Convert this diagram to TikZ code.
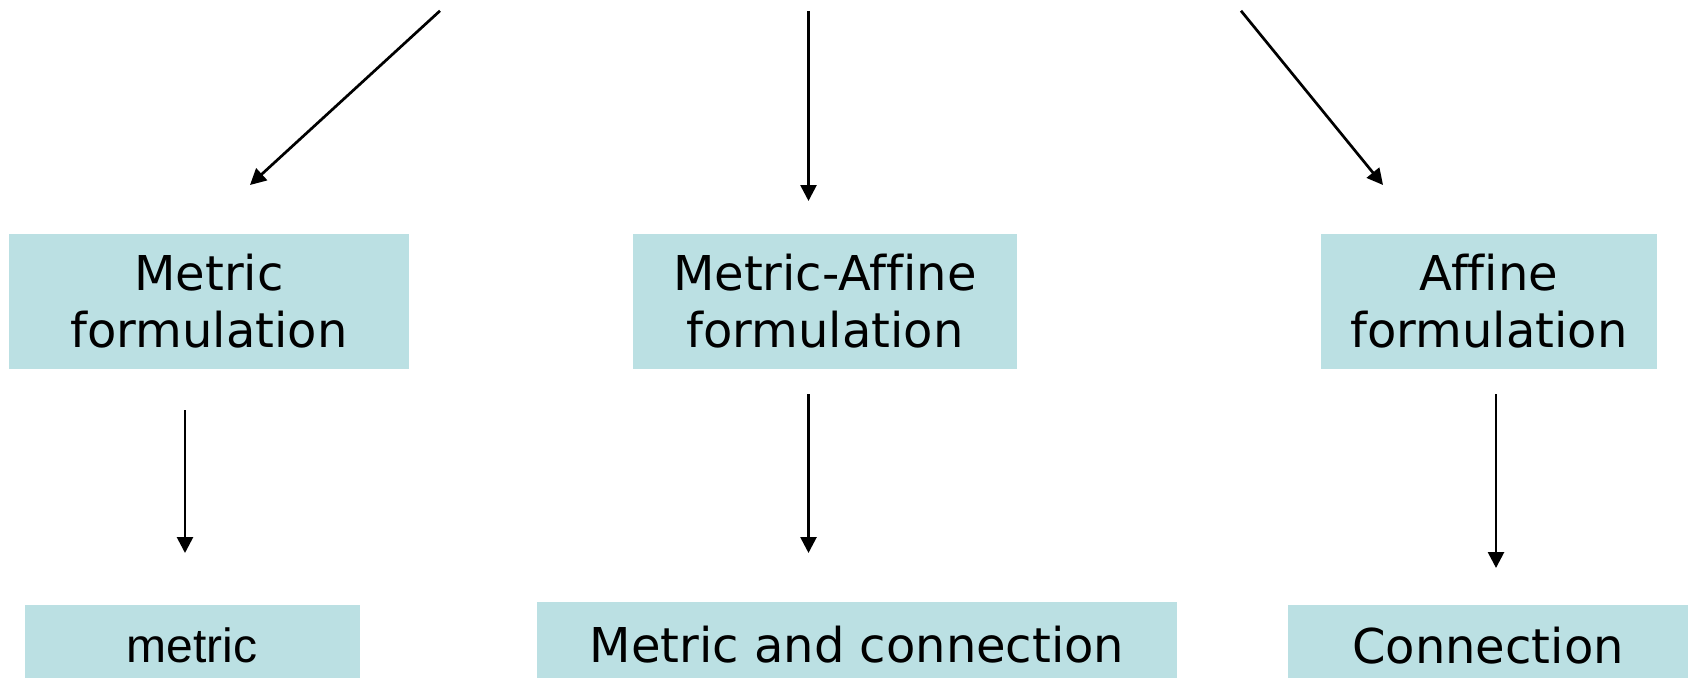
\documentclass[tikz,border=0pt]{standalone}
\usepackage{fontspec}
\setmainfont{DejaVu Sans}[Ligatures=CommonOff]
\newfontfamily\arialfont{Liberation Sans}
\usetikzlibrary{arrows.meta}
\definecolor{boxfill}{RGB}{187,224,227}
\tikzset{
  box/.style={fill=boxfill, draw=none, inner sep=0pt, align=center,
    font=\fontsize{48pt}{57pt}\selectfont},
  lowbox/.style={fill=boxfill, draw=none, inner sep=0pt,
    font=\fontsize{48pt}{57pt}\selectfont, text height=36.5pt, text depth=0pt},
  arr/.style={line width=2.7pt, -{Triangle[length=16pt,width=16pt]}}
}
\begin{document}
\begin{tikzpicture}[x=1pt,y=-1pt]
\useasboundingbox (0,0) rectangle (1688,677);
\clip (0,0) rectangle (1688,677);
% top row
\node[box, minimum width=400pt, minimum height=135pt] (metric) at (209,301.5) {Metric\\formulation};
\node[box, minimum width=384pt, minimum height=135pt] (metaff) at (825,301.5) {Metric-Affine\\formulation};
\node[box, minimum width=336pt, minimum height=135pt] (affine) at (1489,301.5) {Affine\\formulation};
% bottom row
\node[lowbox, minimum width=335pt, minimum height=78pt, font=\arialfont\fontsize{48pt}{57pt}\selectfont] (m) at (192,644) {metric};
\node[lowbox, minimum width=640pt, minimum height=84pt] (mc) at (857,644) {Metric and connection};
\node[lowbox, minimum width=400pt, minimum height=80pt] (c) at (1488,645) {Connection};
% arrow end points
\coordinate (s1) at (440,10.8);
\coordinate (e1) at (250,185);
\coordinate (s2) at (808.5,10.8);
\coordinate (e2) at (808.5,201);
\coordinate (s3) at (1241,10.8);
\coordinate (e3) at (1383,185);
\coordinate (s4) at (185,410);
\coordinate (e4) at (185,553);
\coordinate (s5) at (808.5,394);
\coordinate (e5) at (808.5,553);
\coordinate (s6) at (1496,394);
\coordinate (e6) at (1496,568);
\draw[arr] (s1) -- (e1);
\draw[arr] (s2) -- (e2);
\draw[arr] (s3) -- (e3);
\draw[arr] (s4) -- (e4);
\draw[arr] (s5) -- (e5);
\draw[arr] (s6) -- (e6);
\end{tikzpicture}
\end{document}
